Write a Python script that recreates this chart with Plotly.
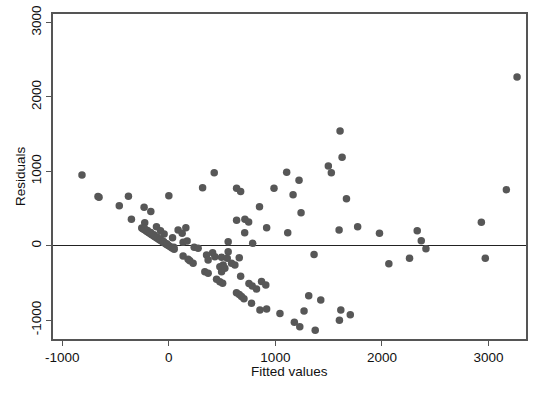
import plotly.graph_objects as go

# Fitted values (x) and residuals (y)
fitted_upper = [-815, -665, -655, -379, -465, -351, -232, -169, 0, 317, 426, 636, 674, 987, 1106,
                851, 636, 714, 749, 918, 712, 1116, 557, 787]
resid_upper = [950, 660, 650, 664, 538, 355, 516, 460, 672, 780, 981, 771, 728, 771, 986,
               524, 341, 355, 319, 242, 175, 175, 54, 32]

fitted_left = [-226, -116, -78, -44, 87, 125, 160, 35, 134, 172, 238, 275, 47]
resid_left = [309, 255, 202, 157, 211, 167, 242, 108, 46, 63, -22, -35, -22]

fitted_band = [-254, -243, -232, -220, -208, -197, -186, -175, -163, -150, -138, -126, -113,
               -100, -88, -75, -62, -50, -37, -24, -12, 0, 14, 30, 50,
               -230, -200, -170, -140, -110, -80, -50, -20]
resid_band = [238, 227, 217, 206, 194, 184, 174, 163, 152, 140, 128, 117, 105,
              92, 81, 69, 57, 45, 33, 21, 9, -2, -15, -30, -49,
              235, 205, 178, 148, 118, 88, 58, 25]

fitted_mid = [134, 181, 197, 228, 354, 411, 369, 432, 495, 557, 548, 589, 479, 510, 495, 526,
              620, 661, 338, 369, 448, 479, 505, 674, 752, 783, 823, 870, 910, 635, 661, 682,
              705, 776, 855, 918, 1043]
resid_mid = [-138, -183, -202, -237, -125, -94, -192, -148, -156, -81, -169, -237, -282, -259,
             -349, -304, -259, -161, -349, -371, -452, -484, -505, -411, -508, -542, -582, -481,
             -528, -632, -656, -683, -712, -774, -864, -851, -911]

fitted_right = [1607, 1626, 1497, 1525, 1222, 1166, 1667, 1241, 1598, 1772, 1977, 2331, 2369,
                2413, 2933, 2970, 2065, 2259, 1363, 1313, 1426, 1269, 1178, 1229, 1374, 1614,
                1601, 1703, 3168, 3268]
resid_right = [1542, 1188, 1071, 981, 879, 685, 630, 444, 211, 254, 168, 202, 67,
               -40, 314, -169, -242, -169, -118, -672, -730, -878, -1028, -1089, -1136, -864,
               -1001, -927, 753, 2267]

fitted = fitted_upper + fitted_left + fitted_band + fitted_mid + fitted_right
resid = resid_upper + resid_left + resid_band + resid_mid + resid_right

x_ticks = [-1000, 0, 1000, 2000, 3000]
y_ticks = [-1000, 0, 1000, 2000, 3000]

fig = go.Figure()
fig.add_trace(go.Scatter(
    x=fitted, y=resid, mode="markers",
    marker=dict(size=7.5, color="#575757", line=dict(width=0)),
    showlegend=False, hoverinfo="skip",
))

font = dict(family="Liberation Sans, Arial, Helvetica, sans-serif", size=13.5, color="#111111")

fig.update_layout(
    width=540, height=393,
    margin=dict(l=53, r=14, t=14, b=54, autoexpand=False),
    paper_bgcolor="white", plot_bgcolor="white",
    font=font,
    xaxis=dict(
        range=[-1087, 3352], tickvals=x_ticks, ticktext=[str(v) for v in x_ticks],
        automargin=False,
        showgrid=False, zeroline=False,
        showline=True, mirror=True, linecolor="#555555", linewidth=1.5,
        ticks="outside", ticklen=5, tickwidth=1.2, tickcolor="#555555",
    ),
    yaxis=dict(
        range=[-1254, 3114], tickvals=y_ticks, ticktext=[str(v) for v in y_ticks],
        tickangle=-90, automargin=False,
        showgrid=False, zeroline=True, zerolinecolor="#222222", zerolinewidth=1.2,
        showline=True, mirror=True, linecolor="#555555", linewidth=1.5,
        ticks="outside", ticklen=5, tickwidth=1.2, tickcolor="#555555",
    ),
    annotations=[
        dict(text="Fitted values", xref="paper", yref="paper", x=0.5, y=0,
             yshift=-23, yanchor="top", showarrow=False, font=font),
        dict(text="Residuals", xref="paper", yref="paper", x=0, y=0.5,
             xshift=-23, xanchor="right", textangle=-90, showarrow=False, font=font),
    ],
)

fig.write_html(
    "out.html",
    config={"displayModeBar": False},
    post_script="document.body.style.margin='0';document.body.style.overflow='hidden';",
)
